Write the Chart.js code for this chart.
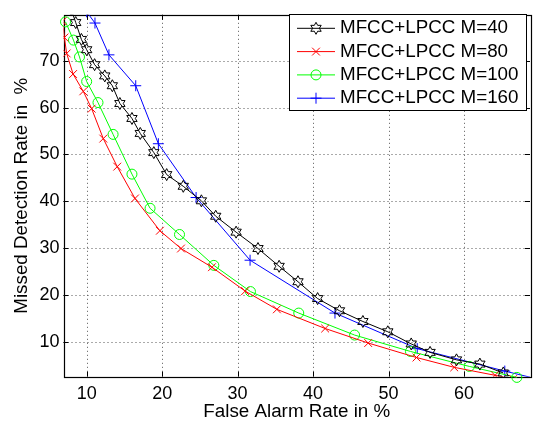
<!DOCTYPE html>
<html>
<head>
<meta charset="utf-8">
<script src="https://cdn.jsdelivr.net/npm/chart.js@4.4.0/dist/chart.umd.min.js"></script>
<style>
  html,body{margin:0;padding:0;background:#fff}
  #wrap{width:537px;height:423px}
</style>
</head>
<body>
<div id="wrap"><canvas id="chart" width="537" height="423"></canvas></div>
<script>
// ===== data =====
const seriesNames = ["MFCC+LPCC M=40", "MFCC+LPCC M=80", "MFCC+LPCC M=100", "MFCC+LPCC M=160"];
const xTicks = [10, 20, 30, 40, 50, 60];
const yTicks = [10, 20, 30, 40, 50, 60, 70];

const m40X = [7.95, 8.55, 9.3, 10.0, 11.05, 12.4, 13.4, 14.4, 16.0, 17.1, 18.9, 20.6, 22.8, 25.2, 27.1, 29.8, 32.7, 35.5, 38.0, 40.6, 43.5, 46.6, 49.9, 53.0, 55.5, 59.0, 62.1, 65.2];
const m40Y = [81.0, 78.2, 74.6, 72.4, 69.2, 66.8, 64.7, 60.9, 57.7, 54.5, 50.4, 45.7, 43.2, 40.1, 36.8, 33.4, 29.9, 26.1, 22.8, 19.2, 16.6, 14.3, 12.1, 9.5, 7.7, 6.1, 5.2, 3.3];

const m80X = [6.8, 7.05, 7.35, 8.2, 9.55, 10.66, 12.2, 14.05, 16.4, 19.7, 22.5, 26.6, 31.0, 35.2, 41.6, 47.3, 53.7, 58.7, 64.1, 66.5];
const m80Y = [78.5, 75.0, 71.6, 67.2, 63.5, 59.8, 53.4, 47.4, 40.6, 33.7, 29.9, 25.9, 20.8, 16.9, 12.8, 9.7, 6.6, 4.5, 2.8, 2.0];

const m100X = [7.2, 8.25, 9.05, 10.0, 11.5, 13.5, 16.0, 18.4, 22.3, 26.85, 31.7, 38.1, 45.5, 52.9, 60.7, 67.0];
const m100Y = [78.35, 74.45, 70.85, 65.6, 61.1, 54.3, 45.8, 38.5, 32.9, 26.3, 20.7, 16.1, 11.4, 7.9, 4.7, 2.35];

const m160X = [10.0, 11.1, 12.95, 16.5, 19.5, 24.5, 31.65, 42.9, 53.8, 65.4, 69.5];
const m160Y = [80.5, 78.1, 71.3, 64.7, 52.3, 40.8, 27.4, 16.1, 8.5, 3.7, 2.1];

const FONT = '"Liberation Sans", Arial, Helvetica, sans-serif';

// hexagram outline (MATLAB 'h' marker)
function hexPath(ctx, cx, cy, R){
  const r = R*0.56;
  ctx.beginPath();
  for (let i=0;i<12;i++){
    const a = -Math.PI/2 + i*Math.PI/6;
    const rr = i%2 ? r : R;
    ctx.lineTo(cx + rr*Math.cos(a), cy + rr*Math.sin(a));
  }
  ctx.closePath();
}

function pts(xs, ys){ return xs.map((x,i)=>({x:x, y:ys[i]})); }

const styles = [
  {color:'#000000', pointStyle: 'hex', radius: 0, clip: 0},
  {color:'#ff0000', pointStyle: 'crossRot', radius: 5.5, clip: 0},
  {color:'#00ff00', pointStyle: 'circle', radius: 5, clip: 10},
  {color:'#0000ff', pointStyle: 'cross', radius: 5.5, clip: 0}
];
const allX = [m40X, m80X, m100X, m160X];
const allY = [m40Y, m80Y, m100Y, m160Y];

const datasets = seriesNames.map((name,i)=>({
  label: name,
  data: pts(allX[i], allY[i]),
  showLine: true,
  borderColor: styles[i].color,
  borderWidth: 1,
  backgroundColor: 'transparent',
  pointBackgroundColor: 'transparent',
  pointBorderColor: styles[i].color,
  pointBorderWidth: 1,
  pointStyle: styles[i].pointStyle === 'hex' ? 'circle' : styles[i].pointStyle,
  pointRadius: styles[i].radius,
  pointHoverRadius: styles[i].radius,
  tension: 0,
  clip: styles[i].clip
}));

function drawMarker(ctx, st, x, y){
  ctx.save();
  ctx.strokeStyle = st.color; ctx.fillStyle = 'rgba(0,0,0,0)'; ctx.lineWidth = 1;
  if (st.pointStyle === 'hex') { hexPath(ctx, x, y, 6); ctx.stroke(); }
  else Chart.helpers.drawPoint(ctx, {pointStyle: st.pointStyle, radius: st.radius, rotation: 0, borderWidth: 1}, x, y);
  ctx.restore();
}

// grid, inward ticks, box, star markers and legend like MATLAB
const axesBox = {
  id: 'axesBox',
  beforeDatasetsDraw(chart){
    const {ctx, chartArea:a, scales:{x, y}} = chart;
    ctx.save();
    ctx.strokeStyle = '#555'; ctx.lineWidth = 1; ctx.setLineDash([1,3]);
    ctx.beginPath();
    xTicks.forEach(v=>{ const p = Math.round(x.getPixelForValue(v))+0.5; ctx.moveTo(p, a.top); ctx.lineTo(p, a.bottom); });
    yTicks.forEach(v=>{ const p = Math.round(y.getPixelForValue(v))+0.5; ctx.moveTo(a.left, p); ctx.lineTo(a.right, p); });
    ctx.stroke();
    ctx.setLineDash([]);
    ctx.strokeStyle = '#000';
    ctx.beginPath();
    const tl = 5;
    xTicks.forEach(v=>{ const p = Math.round(x.getPixelForValue(v))+0.5;
      ctx.moveTo(p, a.bottom); ctx.lineTo(p, a.bottom-tl); ctx.moveTo(p, a.top); ctx.lineTo(p, a.top+tl); });
    yTicks.forEach(v=>{ const p = Math.round(y.getPixelForValue(v))+0.5;
      ctx.moveTo(a.left, p); ctx.lineTo(a.left+tl, p); ctx.moveTo(a.right, p); ctx.lineTo(a.right-tl, p); });
    ctx.stroke();
    ctx.lineWidth = 1.2;
    ctx.strokeRect(Math.round(a.left)+0.5, Math.round(a.top)+0.5, Math.round(a.right-a.left), Math.round(a.bottom-a.top));
    ctx.restore();
  },
  afterDatasetsDraw(chart){
    const {ctx, chartArea:a} = chart;
    const meta = chart.getDatasetMeta(0);
    ctx.save();
    ctx.beginPath(); ctx.rect(a.left, a.top, a.right-a.left, a.bottom-a.top); ctx.clip();
    meta.data.forEach(el => drawMarker(ctx, styles[0], el.x, el.y));
    ctx.restore();
  },
  afterDraw(chart){
    const ctx = chart.ctx;
    const bx = 289.5, by = 14.5, bw = 237, bh = 96;
    ctx.save();
    ctx.fillStyle = '#fff'; ctx.fillRect(bx, by, bw, bh);
    ctx.strokeStyle = '#000'; ctx.lineWidth = 1; ctx.strokeRect(bx, by, bw, bh);
    ctx.font = '18.8px ' + FONT;
    ctx.textBaseline = 'middle'; ctx.textAlign = 'left';
    seriesNames.forEach((name,i)=>{
      const yy = 28.3 + i*23.3;
      const st = styles[i];
      ctx.strokeStyle = st.color; ctx.lineWidth = 1;
      ctx.beginPath(); ctx.moveTo(297, yy); ctx.lineTo(335, yy); ctx.stroke();
      drawMarker(ctx, st, 316, yy);
      ctx.fillStyle = '#000';
      ctx.fillText(name, 340, yy);
    });
    ctx.restore();
  }
};

new Chart(document.getElementById('chart'), {
  type: 'scatter',
  data: { datasets: datasets },
  options: {
    responsive: false,
    devicePixelRatio: 1,
    animation: false,
    layout: { padding: {left: 0, top: 8, right: 7, bottom: 0} },
    plugins: { legend: {display: false}, tooltip: {enabled: false} },
    scales: {
      x: {
        type: 'linear', min: 6.93, max: 68.74,
        afterBuildTicks: s => { s.ticks = xTicks.map(v=>({value:v})); },
        afterFit: s => { s.height = 46.3; },
        grid: {display: false, drawTicks: false},
        border: {display: false},
        ticks: {color:'#000', font:{family: FONT, size: 18}, padding: 6.5, maxRotation: 0, autoSkip: false},
        title: {display: true, text: 'False Alarm Rate in %', color:'#000', font:{family: FONT, size: 18.8}, padding:{top: 0, bottom: 0}}
      },
      y: {
        type: 'linear', min: 2.5, max: 79.86,
        afterBuildTicks: s => { s.ticks = yTicks.map(v=>({value:v})); },
        afterFit: s => { s.width = 63.5; },
        grid: {display: false, drawTicks: false},
        border: {display: false},
        ticks: {color:'#000', font:{family: FONT, size: 18}, padding: 4, autoSkip: false},
        title: {display: true, text: 'Missed Detection Rate in  %', color:'#000', font:{family: FONT, size: 18.8}, padding:{top: 10.5, bottom: 0}}
      }
    }
  },
  plugins: [axesBox]
});
</script>
</body>
</html>
